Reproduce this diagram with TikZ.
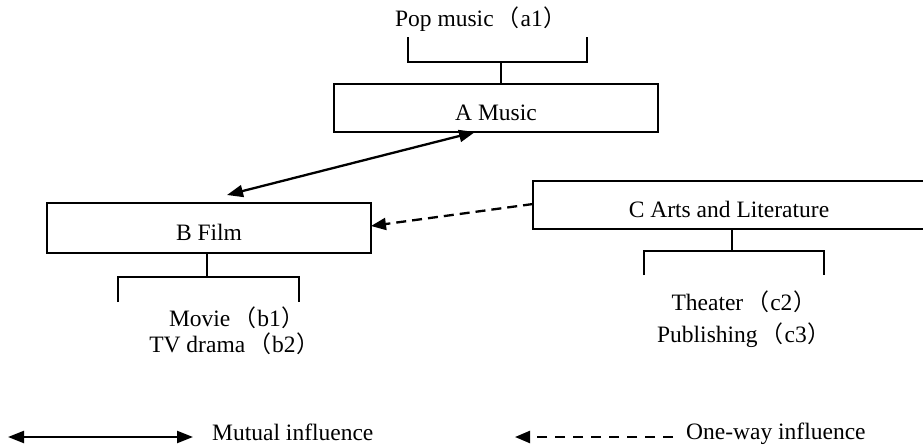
\documentclass[tikz,border=0pt]{standalone}
\usepackage{fontspec}
\setmainfont{Liberation Serif}
\newfontfamily\cjk{Noto Sans CJK SC}
\usetikzlibrary{arrows.meta}
\newcommand{\lpar}{\kern3pt{\cjk\fontsize{23}{26}\selectfont （}\kern1pt}
\newcommand{\rpar}{\kern1pt{\cjk\fontsize{23}{26}\selectfont ）}\kern3pt}
\begin{document}
\begin{tikzpicture}[x=1pt,y=-1pt,
  every node/.style={font=\fontsize{23.5}{26}\selectfont, inner sep=0pt},
  catbox/.style={draw, line width=1.5pt, rectangle, text height=24pt, text depth=0pt},
  lbl/.style={anchor=base},
  brk/.style={line width=1.6pt},
  mutual/.style={line width=2.3pt, {Triangle[length=16pt,width=12pt]}-{Triangle[length=16pt,width=12pt]}},
  oneway/.style={line width=2.3pt, dash pattern=on 10pt off 6pt, -{Triangle[length=15pt,width=12pt]}}
]
\useasboundingbox (0,0) rectangle (923,445);

% category boxes
\node[catbox, minimum width=324pt, minimum height=48pt] (A) at (496,108) {A Music};
\node[catbox, minimum width=324pt, minimum height=50pt] (B) at (209,228) {B Film};
\node[catbox, minimum width=392pt, minimum height=48pt] (C) at (729,205) {C Arts and Literature};

% sub-item labels
\node[lbl] (a1) at (482.5,26) {Pop music\lpar a1\rpar};
\node[lbl] (b1) at (238.5,326) {Movie\lpar b1\rpar};
\node[lbl] (b2) at (236,352) {TV drama\lpar b2\rpar};
\node[lbl] (c2) at (745.5,310) {Theater\lpar c2\rpar};
\node[lbl] (c3) at (745.5,342) {Publishing\lpar c3\rpar};

% brackets
\coordinate (aS) at (501,84);
\coordinate (aM) at (501,62);
\draw[brk] (aS) -- (aM);
\draw[brk] (408,37) -- (408,62) -- (587,62) -- (587,37);

\coordinate (bS) at (207,253);
\coordinate (bM) at (207,277);
\draw[brk] (bS) -- (bM);
\draw[brk] (118,302) -- (118,277) -- (299,277) -- (299,302);

\coordinate (cS) at (732,229);
\coordinate (cM) at (732,251);
\draw[brk] (cS) -- (cM);
\draw[brk] (644,275) -- (644,251) -- (824,251) -- (824,275);

% influence connectors
\coordinate (abB) at (227,195);
\coordinate (abA) at (475,132);
\draw[mutual] (abB) -- (abA);
\coordinate (cOut) at (533,204);
\coordinate (bIn) at (371,226);
\draw[oneway] (cOut) -- (bIn);

% legend
\coordinate (m1) at (8,437);
\coordinate (m2) at (193,437);
\draw[mutual] (m1) -- (m2);
\node[anchor=base west] (mt) at (212,440) {Mutual influence};
\coordinate (o1) at (673,437);
\coordinate (o2) at (515,437);
\draw[oneway, dash pattern=on 10pt off 8pt] (o1) -- (o2);
\node[anchor=base west] (ot) at (686,439) {One-way influence};
\end{tikzpicture}
\end{document}
